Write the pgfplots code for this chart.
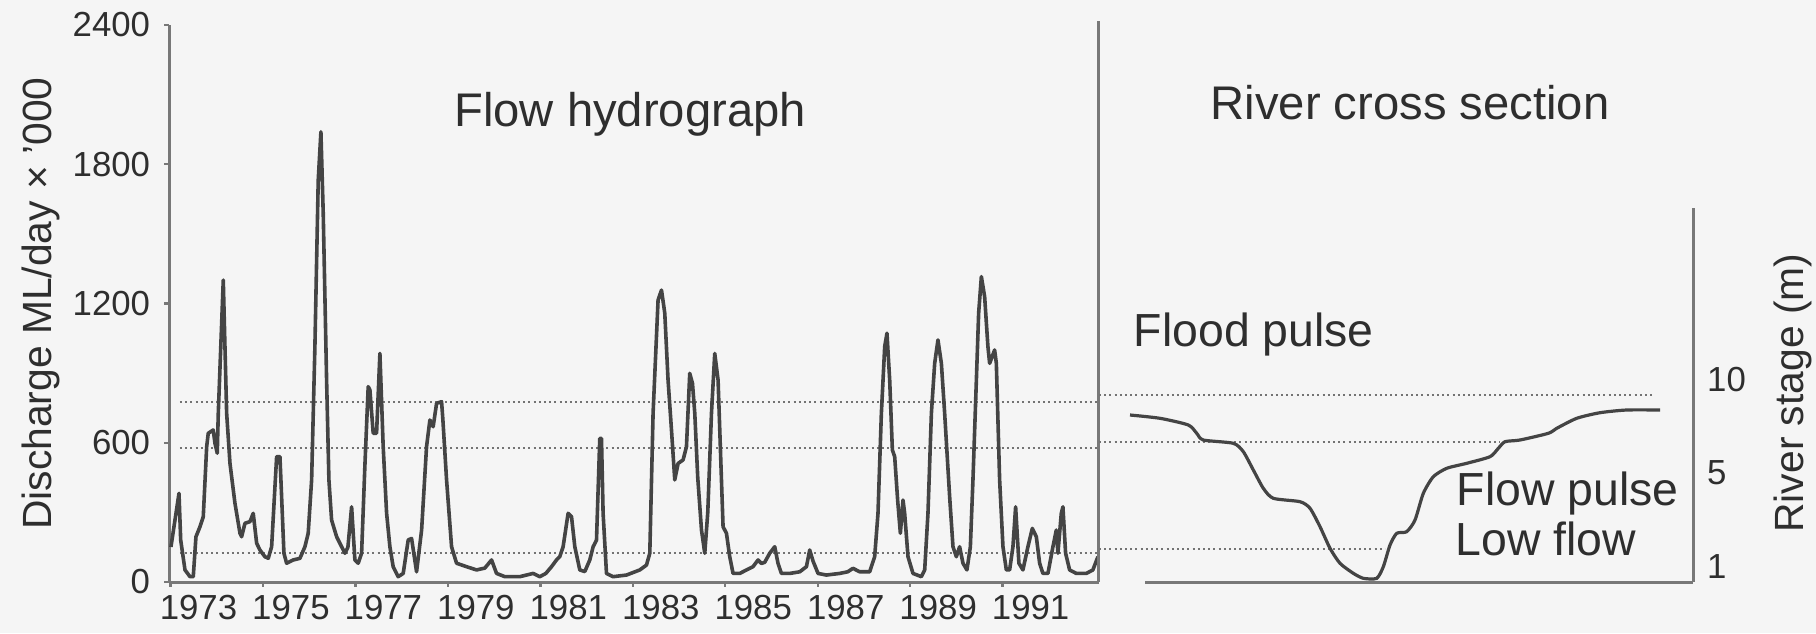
\documentclass[border=0pt]{standalone}
\usepackage{fontspec}
\setmainfont{Liberation Sans}
\usepackage{pgfplots}
\pgfplotsset{compat=1.18}
\definecolor{ink}{HTML}{2E2E2E}
\definecolor{axisgray}{HTML}{787878}
\definecolor{curve}{HTML}{444444}
\definecolor{paper}{HTML}{F5F5F5}
\pgfplotstableread{
year value
1973.01 151
1973.184 382
1973.221 181
1973.314 52
1973.422 23
1973.493 23
1973.551 195
1973.638 238
1973.709 281
1973.783 583
1973.817 641
1973.925 655
1973.962 598
1974.012 555
1974.034 727
1974.142 1301
1974.215 727
1974.287 511
1974.395 339
1974.503 210
1974.539 195
1974.611 253
1974.719 260
1974.790 296
1974.864 167
1974.935 138
1975.043 109
1975.115 102
1975.188 152
1975.296 540
1975.368 540
1975.404 367
1975.454 124
1975.512 81
1975.655 95
1975.800 102
1975.908 152
1975.979 210
1976.053 440
1976.124 1014
1976.196 1732
1976.254 1940
1976.304 1589
1976.377 870
1976.427 440
1976.485 267
1976.594 195
1976.702 152
1976.773 124
1976.838 150
1976.918 324
1976.989 95
1977.061 81
1977.134 124
1977.205 500
1977.277 842
1977.314 827
1977.385 641
1977.458 641
1977.530 985
1977.601 583
1977.675 296
1977.746 152
1977.817 66
1977.925 23
1978.034 37
1978.142 181
1978.215 188
1978.323 44
1978.432 224
1978.539 583
1978.611 698
1978.682 669
1978.756 770
1978.864 777
1978.892 700
1978.972 440
1979.080 152
1979.188 81
1979.404 66
1979.621 52
1979.800 60
1979.945 95
1980.053 37
1980.232 23
1980.557 23
1980.844 37
1980.989 23
1981.119 37
1981.242 66
1981.350 95
1981.422 110
1981.493 152
1981.601 296
1981.675 281
1981.746 152
1981.854 52
1981.962 45
1982.070 95
1982.142 152
1982.215 180
1982.286 619
1982.323 619
1982.358 296
1982.431 37
1982.574 23
1982.864 30
1983.151 52
1983.296 73
1983.368 124
1983.439 727
1983.547 1215
1983.621 1258
1983.692 1158
1983.763 870
1983.837 655
1983.908 440
1983.980 511
1984.088 526
1984.161 583
1984.232 899
1984.291 856
1984.341 727
1984.405 450
1984.486 224
1984.557 124
1984.622 300
1984.702 727
1984.773 985
1984.845 870
1984.918 440
1984.953 238
1985.026 210
1985.097 109
1985.169 37
1985.314 37
1985.459 52
1985.601 66
1985.709 95
1985.783 80
1985.854 85
1985.962 124
1986.070 152
1986.142 80
1986.215 37
1986.395 37
1986.611 44
1986.756 66
1986.827 138
1986.899 90
1987.007 37
1987.188 30
1987.476 37
1987.649 44
1987.763 59
1987.908 44
1988.124 44
1988.232 109
1988.304 296
1988.377 727
1988.449 1014
1988.498 1072
1988.557 870
1988.615 569
1988.665 540
1988.730 350
1988.788 210
1988.845 353
1988.881 296
1988.953 109
1989.061 37
1989.242 23
1989.314 52
1989.385 296
1989.459 727
1989.530 942
1989.601 1043
1989.675 942
1989.746 727
1989.854 367
1989.926 152
1989.999 109
1990.070 152
1990.142 81
1990.228 52
1990.302 152
1990.358 440
1990.432 870
1990.481 1158
1990.540 1316
1990.611 1229
1990.682 1014
1990.719 942
1990.827 1000
1990.864 942
1990.935 440
1991.007 152
1991.080 52
1991.151 52
1991.223 152
1991.281 324
1991.352 81
1991.439 52
1991.547 152
1991.642 231
1991.729 195
1991.800 81
1991.871 37
1991.980 37
1992.088 152
1992.161 224
1992.196 124
1992.269 296
1992.304 324
1992.362 124
1992.449 52
1992.594 37
1992.810 37
1992.952 52
1993.061 109
}\hydro
\tikzset{dotline/.style={black!55, line width=0.45pt, dash pattern=on 0.5pt off 0.8pt}}
\begin{document}
\begin{tikzpicture}[x=1pt,y=1pt]
\useasboundingbox (0,0) rectangle (454,158.25);
\fill[paper] (0,0) rectangle (454,158.25);
\begin{axis}[
  at={(42.25pt,12.75pt)}, anchor=south west,
  scale only axis, width=232.4pt, height=139.25pt,
  xmin=1972.968, xmax=1993.076, ymin=0, ymax=2400,
  axis x line*=bottom, axis y line*=left,
  axis line style={axisgray, line width=0.75pt},
  xtick={1973,1975,...,1991}, ytick={0,600,...,2400},
  tick align=outside, major tick length=1.2pt,
  tick style={axisgray, line width=0.6pt},
  /pgf/number format/assume math mode=true,
  /pgf/number format/1000 sep={},
  xticklabel style={xshift=7pt, yshift=1.5pt, font=\fontsize{8.7}{10}\selectfont, text=ink},
  yticklabel style={font=\fontsize{8.7}{10}\selectfont, text=ink},
  ylabel={Discharge ML/day × '000},
  ylabel style={at={(axis description cs:-0.138,0.5)}, anchor=center, font=\fontsize{10.2}{12}\selectfont, text=ink},
  clip=false,
]
\addplot[dotline] coordinates {(1973.205,777) (1993.076,777)};
\addplot[dotline] coordinates {(1973.205,579) (1993.076,579)};
\addplot[dotline] coordinates {(1973.205,124) (1993.076,124)};
\addplot[curve, line width=0.9pt, line join=round] table[x=year, y=value] {\hydro};
\draw[axisgray, line width=0.75pt] (rel axis cs:1,0) -- (rel axis cs:1,1.007);
\node[anchor=base, font=\fontsize{11.8}{14}\selectfont, text=ink] at (axis description cs:0.496,0.818) {Flow hydrograph};
\end{axis}
\begin{axis}[
  at={(282.5pt,12.75pt)}, anchor=south west,
  scale only axis, width=140.75pt, height=93.5pt,
  xmin=1130, xmax=1693, ymin=0, ymax=374,
  axis x line=none, axis y line*=right,
  axis line style={axisgray, line width=0.75pt},
  ytick={15,109,202}, yticklabels={1,5,10},
  major tick length=0pt,
  yticklabel style={anchor=west, font=\fontsize{8.7}{10}\selectfont, text=ink},
  ylabel={River stage (m)},
  ylabel style={at={(axis description cs:1.178,0.505)}, anchor=center, rotate=0, font=\fontsize{10.2}{12}\selectfont, text=ink},
  clip=false,
]
\draw[axisgray, line width=0.75pt] (axis cs:1145,0) -- (axis cs:1693,0);
\addplot[dotline] coordinates {(1099,187) (1652,187)};
\addplot[dotline] coordinates {(1099,140.3) (1500,140.3)};
\addplot[dotline] coordinates {(1099,33) (1385,33)};
\addplot[curve, line width=0.8pt, smooth, tension=0.4] coordinates {
(1130,167) (1160,163.7) (1188.3,157) (1196.7,148.7) (1203.3,142) (1233.3,138.7)
(1243.3,130.3) (1253.3,112) (1263.3,93.7) (1273.3,83.7) (1300,80.3) (1310,73.7)
(1320,55.3) (1330,33.7) (1340,18.7) (1353.3,8.7) (1363.3,3.7) (1376.7,3.7)
(1383.3,15.3) (1390,37) (1396.7,48.7) (1406.7,50.3) (1415,62) (1423.3,88.7)
(1433.3,105.3) (1446.7,113.7) (1466.7,118.7) (1490,125.3) (1498.3,133.7)
(1505,140.3) (1520,142) (1548.3,148.7) (1556.7,153.7) (1576.7,163.7)
(1600,169.3) (1626.7,172) (1660,172)};
\node[anchor=base, font=\fontsize{11.8}{14}\selectfont, text=ink] at (axis cs:1410,463) {River cross section};
\node[anchor=base west, inner xsep=0pt, font=\fontsize{11.6}{14}\selectfont, text=ink] at (axis cs:1133,236) {Flood pulse};
\node[anchor=base west, inner xsep=0pt, font=\fontsize{11.6}{14}\selectfont, text=ink] at (axis cs:1456,77) {Flow pulse};
\node[anchor=base west, inner xsep=0pt, font=\fontsize{11.6}{14}\selectfont, text=ink] at (axis cs:1455,27) {Low flow};
\end{axis}
\end{tikzpicture}
\end{document}
